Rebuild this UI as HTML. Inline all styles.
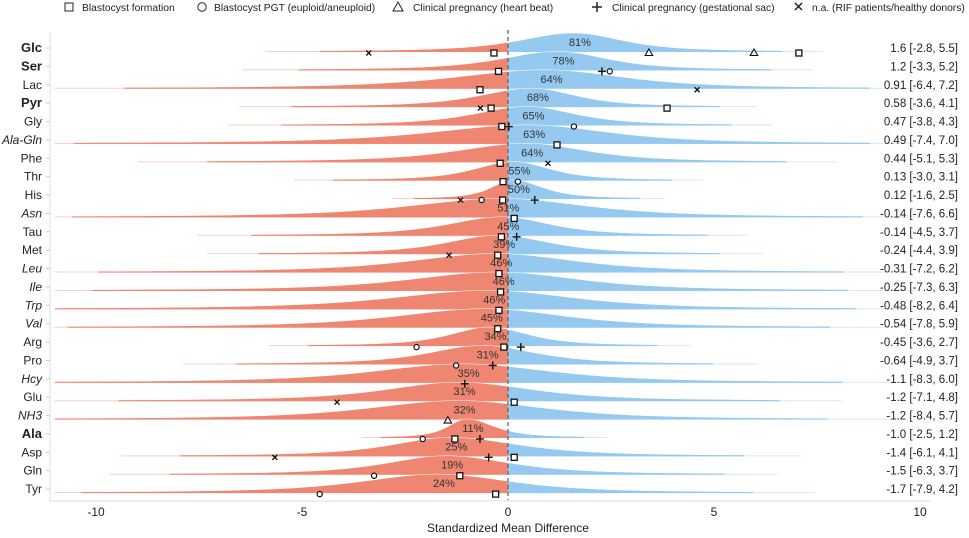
<!DOCTYPE html>
<html><head><meta charset="utf-8"><style>
body{margin:0;background:#fff;}
svg{display:block;font-family:"Liberation Sans",Arial,sans-serif;}
</style></head><body>
<svg id="chart" width="969" height="538" viewBox="0 0 969 538">
<defs>
<clipPath id="negClip"><rect x="0" y="0" width="508" height="538"/></clipPath>
<clipPath id="posClip"><rect x="508" y="0" width="461" height="538"/></clipPath>
</defs>
<g id="legend" font-size="10.3" fill="#222">
<g><rect x="65" y="3" width="8" height="8" fill="none" stroke="#222" stroke-width="1"/><text x="82" y="11">Blastocyst formation</text></g>
<g><circle cx="202" cy="7" r="4.2" fill="none" stroke="#222"/><text x="214" y="11">Blastocyst PGT (euploid/aneuploid)</text></g>
<g><polygon points="398,2 403,11 393,11" fill="none" stroke="#222"/><text x="413" y="11">Clinical pregnancy (heart beat)</text></g>
<g><path d="M597 2v10M592 7h10" stroke="#222" stroke-width="1.5"/><text x="612" y="11">Clinical pregnancy (gestational sac)</text></g>
<g><path d="M795 3l7 7M802 3l-7 7" stroke="#222" stroke-width="1.5"/><text x="812" y="11">n.a. (RIF patients/healthy donors)</text></g>
</g>
<line x1="50" y1="33" x2="50" y2="501" stroke="#ddd"/>
<line x1="50" y1="501" x2="930" y2="501" stroke="#ddd"/>
<g id="ridges"></g>
<line x1="508" y1="30" x2="508" y2="500" stroke="#666" stroke-width="1.3" stroke-dasharray="4,3"/>
<g id="pcts" font-size="11" fill="#333" text-anchor="middle"></g>
<g id="marks"></g>
<g id="ylabels" font-size="12" fill="#222" text-anchor="end"></g>
<g id="ci" font-size="11.5" fill="#222" text-anchor="end"></g>
<g id="xticks" font-size="12" fill="#222" text-anchor="middle"></g>
<text x="508" y="532" font-size="12" fill="#222" text-anchor="middle">Standardized Mean Difference</text>
</svg>
<script>
const metabolites=["Glc","Ser","Lac","Pyr","Gly","Ala-Gln","Phe","Thr","His","Asn","Tau","Met","Leu","Ile","Trp","Val","Arg","Pro","Hcy","Glu","NH3","Ala","Asp","Gln","Tyr"];
const labelStyle=["b","b","n","b","n","i","n","n","n","i","n","n","i","i","i","i","n","n","i","n","i","b","n","n","n"];
const means=[1.6,1.2,0.91,0.58,0.47,0.49,0.44,0.13,0.12,-0.14,-0.14,-0.24,-0.31,-0.25,-0.48,-0.54,-0.45,-0.64,-1.1,-1.2,-1.2,-1.0,-1.4,-1.5,-1.7];
const lows=[-2.8,-3.3,-6.4,-3.6,-3.8,-7.4,-5.1,-3.0,-1.6,-7.6,-4.5,-4.4,-7.2,-7.3,-8.2,-7.8,-3.6,-4.9,-8.3,-7.1,-8.4,-2.5,-6.1,-6.3,-7.9];
const highs=[5.5,5.2,7.2,4.1,4.3,7.0,5.3,3.1,2.5,6.6,3.7,3.9,6.2,6.3,6.4,5.9,2.7,3.7,6.0,4.8,5.7,1.2,4.1,3.7,4.2];
const ciText=["1.6 [-2.8, 5.5]","1.2 [-3.3, 5.2]","0.91 [-6.4, 7.2]","0.58 [-3.6, 4.1]","0.47 [-3.8, 4.3]","0.49 [-7.4, 7.0]","0.44 [-5.1, 5.3]","0.13 [-3.0, 3.1]","0.12 [-1.6, 2.5]","-0.14 [-7.6, 6.6]","-0.14 [-4.5, 3.7]","-0.24 [-4.4, 3.9]","-0.31 [-7.2, 6.2]","-0.25 [-7.3, 6.3]","-0.48 [-8.2, 6.4]","-0.54 [-7.8, 5.9]","-0.45 [-3.6, 2.7]","-0.64 [-4.9, 3.7]","-1.1 [-8.3, 6.0]","-1.2 [-7.1, 4.8]","-1.2 [-8.4, 5.7]","-1.0 [-2.5, 1.2]","-1.4 [-6.1, 4.1]","-1.5 [-6.3, 3.7]","-1.7 [-7.9, 4.2]"];
const pcts=["81%","78%","64%","68%","65%","63%","64%","55%","50%","51%","45%","39%","46%","46%","46%","45%","34%","31%","35%","31%","32%","11%","25%","19%","24%"];
const markRows=[0,0,0,0,0,1,1,1,2,2,3,3,3,4,4,4,5,6,6,7,7,8,8,8,8,9,10,10,11,11,12,13,14,15,16,16,16,17,17,18,19,19,20,21,21,21,22,22,22,23,23,24,24];
const markTypes=["x","sq","tri","tri","sq","sq","plus","circ","sq","x","x","sq","sq","sq","plus","circ","sq","sq","x","sq","circ","x","circ","sq","plus","sq","sq","plus","x","sq","sq","sq","sq","sq","circ","sq","plus","circ","plus","plus","x","sq","tri","circ","sq","plus","x","plus","sq","circ","sq","circ","sq"];
const markValues=[-3.38,-0.34,3.42,5.97,7.06,-0.23,2.28,2.47,-0.68,4.59,-0.67,-0.41,3.86,-0.15,0.02,1.6,1.19,-0.19,0.97,-0.12,0.24,-1.15,-0.64,-0.13,0.65,0.15,-0.16,0.21,-1.43,-0.25,-0.22,-0.18,-0.22,-0.25,-2.22,-0.1,0.31,-1.26,-0.37,-1.05,-4.15,0.15,-1.46,-2.07,-1.29,-0.68,-5.66,-0.47,0.15,-3.25,-1.17,-4.57,-0.3];
const xTicks=[-10,-5,0,5,10];

const NS="http://www.w3.org/2000/svg";
const X0=508,PX=41.2;
function xs(v){return X0+v*PX;}
function ys(i){return 52+i*18.38;}
function mk(tag,attrs,parent){const e=document.createElementNS(NS,tag);for(const k in attrs)e.setAttribute(k,attrs[k]);parent.appendChild(e);return e;}
const ridges=document.getElementById('ridges'),pctG=document.getElementById('pcts'),marks=document.getElementById('marks'),yl=document.getElementById('ylabels'),ci=document.getElementById('ci'),xt=document.getElementById('xticks');
const H=18;
metabolites.forEach((name,i)=>{
  const m=means[i],sl=(m-lows[i])/3.18,sr=(highs[i]-m)/3.18;
  const a=Math.max(-11,m-1.4*(m-lows[i])),b=Math.min(8.8,m+1.3*(highs[i]-m));
  const fa=Math.max(-11,m-1.7*(m-lows[i])),fb=Math.min(9.9,m+1.55*(highs[i]-m));
  const base=ys(i);
  let d="M"+xs(a).toFixed(1)+" "+(base+0.3);
  const N=160;
  for(let k=0;k<=N;k++){const v=a+(b-a)*k/N;const s=v<m?sl:sr;const z=(v-m)/s;const f=Math.pow(1+z*z/3,-2);d+=" L"+xs(v).toFixed(1)+" "+(base-1-H*f).toFixed(1);}
  d+=" L"+xs(b).toFixed(1)+" "+(base+0.3)+" Z";
  const g=mk('g',{},ridges);
  
  
  const ln=mk('line',{x1:xs(fa),x2:Math.min(508,xs(fb)),y1:base-0.5,y2:base-0.5,stroke:'#f3d0c8','stroke-width':1},g);
  
  
  const ln2=mk('line',{x1:Math.max(508,xs(fa)),x2:xs(fb),y1:base-0.5,y2:base-0.5,stroke:'#d6e9f8','stroke-width':1},g);
  
  
  const pn=mk('path',{d:d,fill:'#ef8671',stroke:'#fff','stroke-width':0.5,'clip-path':'url(#negClip)'},g);
  
  
  const pp=mk('path',{d:d,fill:'#95c9f0',stroke:'#fff','stroke-width':0.5,'clip-path':'url(#posClip)'},g);
  
  
  const t=mk('text',{x:xs(m)+6,y:base-6},pctG);t.textContent=pcts[i];
  
  
  const lab=mk('text',{x:42,y:base},yl);lab.textContent=name;
  if(labelStyle[i]==="b"){lab.setAttribute('font-weight','bold');lab.setAttribute('font-size','13');}
  if(labelStyle[i]==="i")lab.setAttribute('font-style','italic');
  
  
  const tk=mk('line',{x1:46,x2:50,y1:base-4,y2:base-4,stroke:'#ccc'},yl);
  
  
  const c=mk('text',{x:958,y:base},ci);c.textContent=ciText[i];
  
  
});
markValues.forEach((v,j)=>{
  const x=xs(v),y=ys(markRows[j])+1,t=markTypes[j];let e;
  if(t==="sq")e=mk('rect',{x:x-3,y:y-3,width:6,height:6,fill:'#fff',stroke:'#111','stroke-width':1.3},marks);
  else if(t==="circ")e=mk('circle',{cx:x,cy:y,r:2.6,fill:'#fff',stroke:'#111','stroke-width':1.2},marks);
  else if(t==="tri")e=mk('polygon',{points:`${x},${y-4} ${x+3.8},${y+2.5} ${x-3.8},${y+2.5}`,fill:'#fff',stroke:'#111','stroke-width':1.1},marks);
  else if(t==="plus")e=mk('path',{d:`M${x-4} ${y}h8M${x} ${y-4}v8`,stroke:'#111','stroke-width':1.4},marks);
  else e=mk('path',{d:`M${x-2.5} ${y-2.5}l5 5M${x+2.5} ${y-2.5}l-5 5`,stroke:'#111','stroke-width':1.3},marks);
  
  
});
xTicks.forEach(v=>{
  const t=mk('text',{x:xs(v),y:516},xt);t.textContent=String(v);
  
  
});
</script>
</body></html>
